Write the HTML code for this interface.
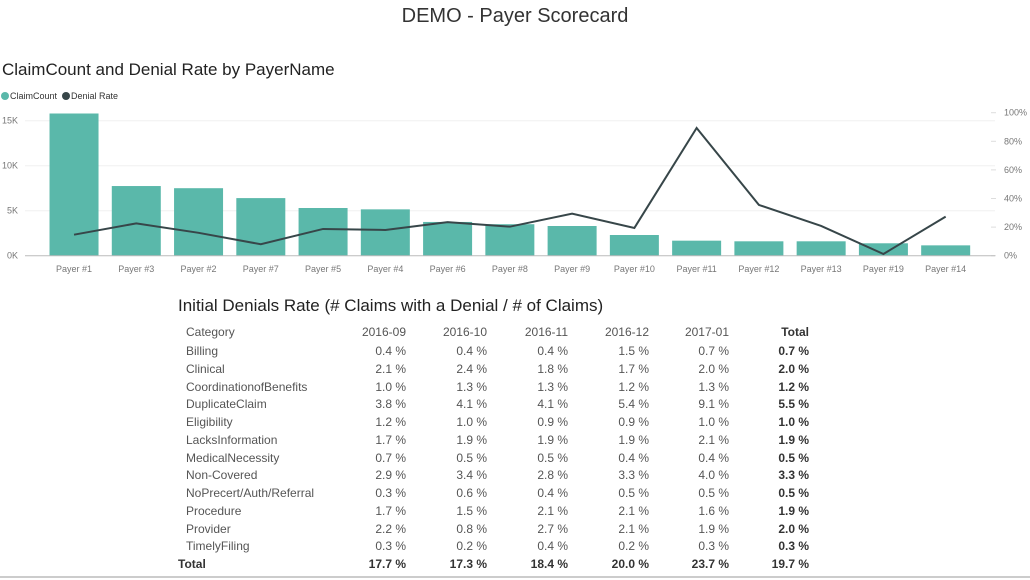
<!DOCTYPE html>
<html><head><meta charset="utf-8"><style>
body{margin:0;width:1030px;height:580px;background:#fff;font-family:"Liberation Sans",sans-serif;position:relative;overflow:hidden}
.abs{position:absolute;white-space:nowrap}
#tbl div{position:absolute;white-space:nowrap;font-size:12px;color:#555}
</style></head><body>
<div class="abs" style="left:0;width:1030px;text-align:center;top:5px;font-size:20px;color:#333">DEMO - Payer Scorecard</div>
<div class="abs" style="left:2px;top:60px;font-size:17px;color:#222">ClaimCount and Denial Rate by PayerName</div>
<svg id="chart" width="1030" height="290" style="position:absolute;left:0;top:0" font-family="Liberation Sans, sans-serif"></svg>
<div class="abs" style="left:178px;top:296px;font-size:17px;color:#222">Initial Denials Rate (# Claims with a Denial / # of Claims)</div>
<div id="tbl"></div>
<div class="abs" style="left:0;top:576px;width:1030px;height:2px;background:#ccc"></div>
<script>
const categories=["Payer #1","Payer #3","Payer #2","Payer #7","Payer #5","Payer #4","Payer #6","Payer #8","Payer #9","Payer #10","Payer #11","Payer #12","Payer #13","Payer #19","Payer #14"];
const claimCount=[15800,7740,7500,6400,5300,5150,3750,3500,3300,2300,1670,1600,1600,1380,1150];
const denialRate=[14.7,22.6,16,8,18.7,18,23.5,20.3,29.4,19.4,89.3,35.5,20.8,1.2,27.3];
const leftTicks=[0,5000,10000,15000];
const leftTickLabels=["0K","5K","10K","15K"];
const rightTicks=[0,20,40,60,80,100];
const rightTickLabels=["0%","20%","40%","60%","80%","100%"];

const NS="http://www.w3.org/2000/svg";
const svg=document.getElementById('chart');
function mk(t,a,p){const e=document.createElementNS(NS,t);for(const k in a)e.setAttribute(k,a[k]);(p||svg).appendChild(e);return e;}
const y0=255.7,x0=42.9,band=62.26,bw=49;
const yL=v=>y0-v*(45/5000);
const yR=v=>y0-v*1.43;
const xC=i=>x0+band*(i+0.5);
let g=mk('g',{});
let c=mk('circle',{cx:5,cy:96,r:4,fill:'#5ab8aa'},g);
let t=mk('text',{x:10,y:99,'font-size':9,fill:'#333'},g);t.textContent='ClaimCount';
c=mk('circle',{cx:66,cy:96,r:4,fill:'#374649'},g);
t=mk('text',{x:71,y:99,'font-size':9,fill:'#333'},g);t.textContent='Denial Rate';
leftTicks.forEach((v,i)=>{
  if(v>0){const l=mk('line',{x1:25,x2:995,y1:yL(v),y2:yL(v),stroke:'#f0f0f0','stroke-width':1});}
  const tx=mk('text',{x:18,y:yL(v)+3,'font-size':9,fill:'#777','text-anchor':'end'});
  
  
  tx.textContent=leftTickLabels[i];
});
rightTicks.forEach((v,i)=>{
  mk('line',{x1:991,x2:996,y1:yR(v),y2:yR(v),stroke:'#ddd'});
  const tx=mk('text',{x:1004,y:yR(v)+3,'font-size':9,fill:'#777'});
  
  
  tx.textContent=rightTickLabels[i];
});
categories.forEach((cat,i)=>{
  const r=mk('rect',{x:xC(i)-bw/2,y:yL(claimCount[i]),width:bw,height:y0-yL(claimCount[i]),fill:'#5ab8aa'});
  
  
  const tx=mk('text',{x:xC(i),y:272,'font-size':9,fill:'#777','text-anchor':'middle'});
  
  
  tx.textContent=cat;
});
const ax=mk('line',{x1:25,x2:995,y1:y0,y2:y0,stroke:'#bbb'});


const pl=mk('polyline',{points:denialRate.map((v,i)=>xC(i)+','+yR(v)).join(' '),fill:'none',stroke:'#374649','stroke-width':2});



const cols=["2016-09","2016-10","2016-11","2016-12","2017-01"];
const rowNames=["Billing","Clinical","CoordinationofBenefits","DuplicateClaim","Eligibility","LacksInformation","MedicalNecessity","Non-Covered","NoPrecert/Auth/Referral","Procedure","Provider","TimelyFiling"];
const rowVals=[[0.4,0.4,0.4,1.5,0.7],[2.1,2.4,1.8,1.7,2.0],[1.0,1.3,1.3,1.2,1.3],[3.8,4.1,4.1,5.4,9.1],[1.2,1.0,0.9,0.9,1.0],[1.7,1.9,1.9,1.9,2.1],[0.7,0.5,0.5,0.4,0.4],[2.9,3.4,2.8,3.3,4.0],[0.3,0.6,0.4,0.5,0.5],[1.7,1.5,2.1,2.1,1.6],[2.2,0.8,2.7,2.1,1.9],[0.3,0.2,0.4,0.2,0.3]];
const rowTotals=[0.7,2.0,1.2,5.5,1.0,1.9,0.5,3.3,0.5,1.9,2.0,0.3];
const colTotals=[17.7,17.3,18.4,20.0,23.7];
const grandTotal=19.7;
const tbl=document.getElementById('tbl');
const colR=[406,487,568,649,729,809];
function cell(txt,x,y,right,bold,name){
  const d=document.createElement('div');
  
  
  d.textContent=txt;
  d.style.top=(y-6)+'px';
  if(right){d.style.right=(1030-x)+'px';}else{d.style.left=x+'px';}
  if(bold){d.style.fontWeight='bold';d.style.color='#333';}
  tbl.appendChild(d);
}
const rowY=i=>350+i*17.75;
cell("Category",186,331,false,false,'header-category');
cols.forEach((c,j)=>cell(c,colR[j],331,true,false,'header-'+c));
cell("Total",colR[5],331,true,true,'header-total');
rowNames.forEach((n,i)=>{
  cell(n,186,rowY(i),false,false,'row-label');
  rowVals[i].forEach((v,j)=>cell(v.toFixed(1)+' %',colR[j],rowY(i),true,false,'cell-value'));
  cell(rowTotals[i].toFixed(1)+' %',colR[5],rowY(i),true,true,'row-total');
});
const ty=rowY(12);
cell("Total",178,ty,false,true,'total-label');
colTotals.forEach((v,j)=>cell(v.toFixed(1)+' %',colR[j],ty,true,true,'column-total'));
cell(grandTotal.toFixed(1)+' %',colR[5],ty,true,true,'grand-total');
</script>
</body></html>
